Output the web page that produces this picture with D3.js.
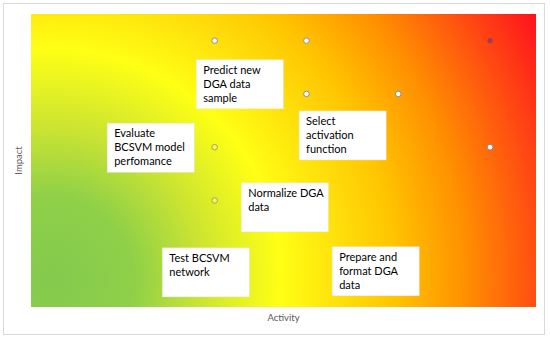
<!DOCTYPE html>
<html>
<head>
<meta charset="utf-8">
<script src="https://cdn.jsdelivr.net/npm/d3@7"></script>
<style>
  body { margin: 0; background: #fff; }
  svg { display: block; font-family: Lato, "Open Sans", sans-serif; }
</style>
</head>
<body>
<svg id="chart" width="550" height="342"></svg>
<script>
// points on the activity / impact grid
var pointX    = [2, 3, 5, 3, 4, 2, 5, 2];
var pointY    = [5, 5, 5, 4, 4, 3, 3, 2];
var pointKind = ["filled", "filled", "marked", "filled", "filled", "open", "filled", "open"];

// task labels, anchored at the top-left corner of each box (data units)
var taskNames = [
    ["Predict new", "DGA data", "sample"],
    ["Evaluate", "BCSVM model", "perfomance"],
    ["Select", "activation", "function"],
    ["Normalize DGA", "data"],
    ["Test BCSVM", "network"],
    ["Prepare and", "format DGA", "data"]
];
var taskX = [1.80, 0.83, 2.92, 2.29, 1.43, 3.28];
var taskY = [4.64, 3.45, 3.68, 2.33, 1.11, 1.13];

var xDomain = [0, 5.5], yDomain = [0, 5.5];
var xTitle = "Activity", yTitle = "Impact";

var svg = d3.select("#chart");
var margin = {left: 31, right: 14, top: 14, bottom: 35};
var width  = +svg.attr("width")  - margin.left - margin.right,
    height = +svg.attr("height") - margin.top  - margin.bottom;

var x = d3.scaleLinear().domain(xDomain).range([0, width]);
var y = d3.scaleLinear().domain(yDomain).range([height, 0]);

// outer frame
svg.append("rect")
    .attr("x", 3.5).attr("y", 3.5)
    .attr("width", 541).attr("height", 331)
    .attr("fill", "#fff")
    .attr("stroke", "#d9d9d9");

// heat background: green at low activity/impact, red at high
var grad = svg.append("defs").append("radialGradient")
    .attr("id", "heat")
    .attr("gradientUnits", "userSpaceOnUse")
    .attr("cx", margin.left + 20).attr("cy", margin.top + height - 28)
    .attr("r", 560);
[[0.00, "#84ca4e"], [0.15, "#90d048"], [0.27, "#cbe432"], [0.41, "#ffff14"],
 [0.53, "#fedc0a"], [0.61, "#ffc600"], [0.74, "#ff9000"], [0.87, "#ff4c12"],
 [1.00, "#ff0a1e"]].forEach(function(s){
    grad.append("stop").attr("offset", s[0]).attr("stop-color", s[1]);
});

var g = svg.append("g")
    .attr("transform", "translate(" + margin.left + "," + margin.top + ")");

g.append("rect")
    .attr("width", width).attr("height", height)
    .attr("fill", "url(#heat)")
    .attr("transform", "translate(" + (-margin.left) + "," + (-margin.top) + ")")
    .attr("x", margin.left).attr("y", margin.top);

// points
var pts = pointX.map(function(d, i){ return {x: d, y: pointY[i], kind: pointKind[i]}; });
g.selectAll("circle.pt")
    .data(pts)
    .enter().append("circle")
        .attr("class", "pt")
        .attr("cx", function(d){ return x(d.x); })
        .attr("cy", function(d){ return y(d.y); })
        .attr("r", function(d){ return d.kind == "marked" ? 2.6 : 2.8; })
        .attr("fill", function(d){
            if( d.kind == "marked" ) return "#8a3a6a";
            return d.kind == "open" ? "#f4f46a" : "#ffffff";
        })
        .attr("fill-opacity", function(d){ return d.kind == "marked" ? 0.8 : 1; })
        .attr("stroke", function(d){
            if( d.kind == "marked" ) return "none";
            return d.kind == "open" ? "#a8a840" : "#8c8c8c";
        })
        .attr("stroke-width", 1);

// task boxes
var boxW = 87, boxH = 49;
var tasks = taskNames.map(function(d, i){ return {lines: d, x: taskX[i], y: taskY[i]}; });
var box = g.selectAll("g.task")
    .data(tasks)
    .enter().append("g")
        .attr("class", "task")
        .attr("transform", function(d){ return "translate(" + x(d.x) + "," + y(d.y) + ")"; });

box.append("rect")
    .attr("width", boxW).attr("height", boxH)
    .attr("fill", "#fff")
    .attr("stroke", "#e6e6e6")
    .attr("stroke-width", 0.5);

box.each(function(d){
    var t = d3.select(this).append("text")
        .attr("x", 7).attr("y", 14)
        .attr("font-size", "11px")
        .attr("fill", "#000");
    d.lines.forEach(function(line, j){
        t.append("tspan").attr("x", 7).attr("y", 14 + j * 14).text(line);
    });
});

// axis titles
svg.append("text")
    .attr("x", margin.left + width / 2)
    .attr("y", margin.top + height + 14)
    .attr("text-anchor", "middle")
    .attr("font-size", "9.5px")
    .attr("fill", "#595959")
    .text(xTitle);

svg.append("text")
    .attr("transform", "translate(" + (margin.left - 9) + "," + (margin.top + height / 2) + ") rotate(-90)")
    .attr("text-anchor", "middle")
    .attr("font-size", "9.5px")
    .attr("fill", "#595959")
    .text(yTitle);
</script>
</body>
</html>
